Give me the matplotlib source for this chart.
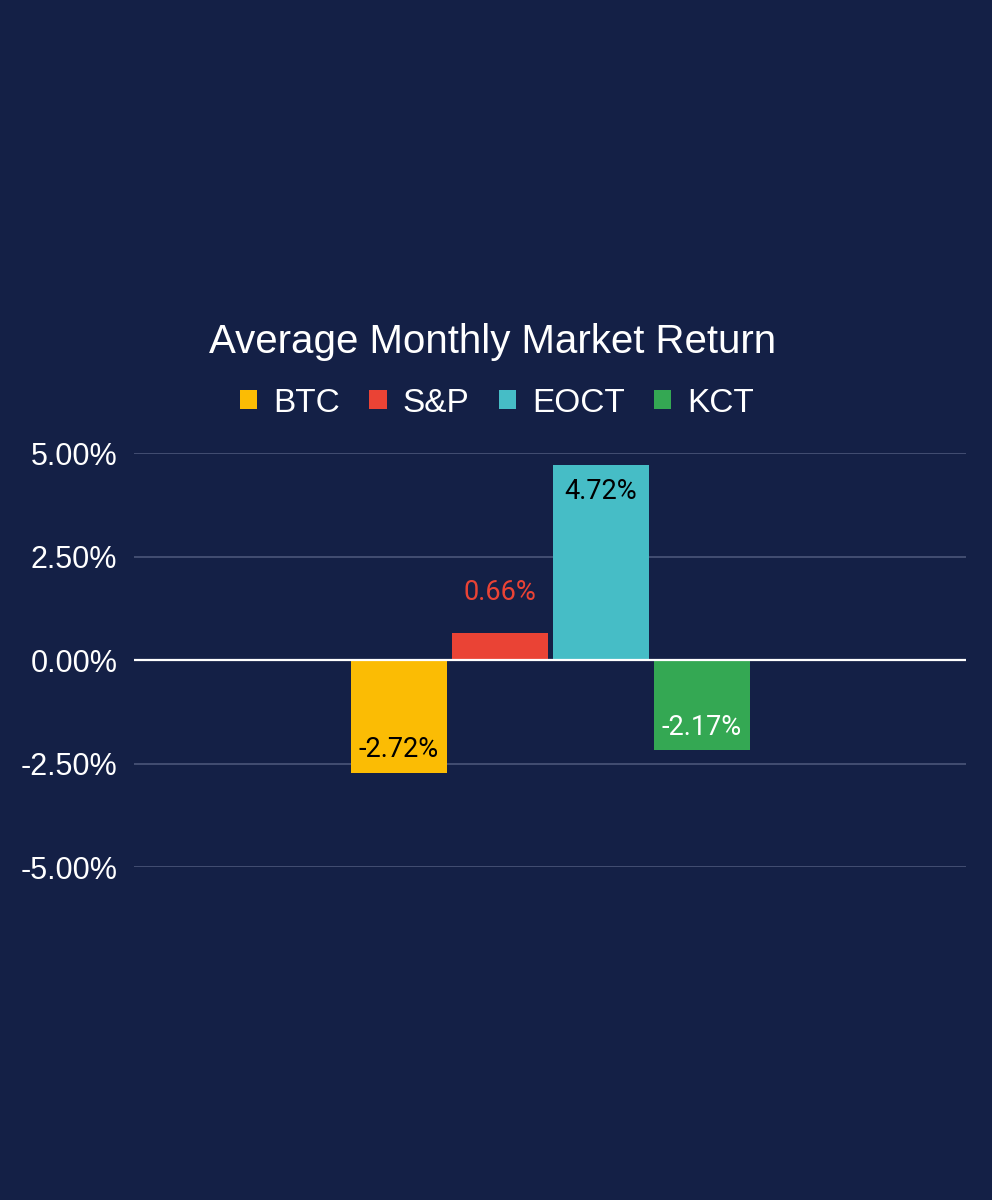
import matplotlib.pyplot as plt
import matplotlib.ticker as mticker
from matplotlib.patches import Patch

# Data
series = ['BTC', 'S&P', 'EOCT', 'KCT']
returns = [-2.72, 0.66, 4.72, -2.17]
colors = ['#FBBC04', '#EA4335', '#46BDC6', '#34A853']
label_colors = ['#000000', '#EA4335', '#000000', '#FFFFFF']
yticks = [-5.0, -2.5, 0.0, 2.5, 5.0]

bg = '#142046'

plt.rcParams['font.family'] = ['Liberation Sans', 'DejaVu Sans']

fig = plt.figure(figsize=(9.92, 12), dpi=100, facecolor=bg)
ax = fig.add_axes([134/992, 1-867/1200, (966-134)/992, (867-453)/1200])
ax.set_facecolor(bg)

pitch = 101/832
width = 96/832
offsets = [(i - 1.5) * pitch for i in range(len(series))]

bars = ax.bar(offsets, returns, width=width, color=colors, zorder=3)

for b, v, lc in zip(bars, returns, label_colors):
    x = b.get_x() + b.get_width()/2
    if v > 3:
        y = v - 0.64
    elif v > 0:
        y = v + 0.98
    else:
        y = v + 0.55
    ax.text(x, y, f'{v:.2f}%', ha='center', va='center', color=lc,
            fontsize=19.5, family=['Roboto', 'DejaVu Sans'], zorder=4)

ax.set_xlim(-0.5, 0.5)
ax.set_ylim(-5, 5)
ax.set_yticks(yticks)
ax.yaxis.set_major_formatter(mticker.FuncFormatter(lambda v, p: f'{v:.2f}%'))
ax.set_xticks([])
ax.tick_params(axis='y', length=0, pad=12, labelsize=22, labelcolor='white')
ax.grid(axis='y', color='#4B5679', linewidth=1.2, zorder=0)
ax.axhline(0, color='white', linewidth=1.6, zorder=5)
for s in ax.spines.values():
    s.set_visible(False)

fig.text(0.497, 1-342/1200, 'Average Monthly Market Return', ha='center', va='center',
         color='white', fontsize=29)

handles = [Patch(facecolor=c, edgecolor='none', label=s) for s, c in zip(series, colors)]
leg = fig.legend(handles=handles, loc='center', bbox_to_anchor=(0.501, 1-403/1200),
                 ncol=4, frameon=False, fontsize=24, handlelength=0.52, handleheight=0.52,
                 handletextpad=0.48, columnspacing=0.88, labelcolor='white')

fig.savefig('out.png', dpi=100, facecolor=bg)
